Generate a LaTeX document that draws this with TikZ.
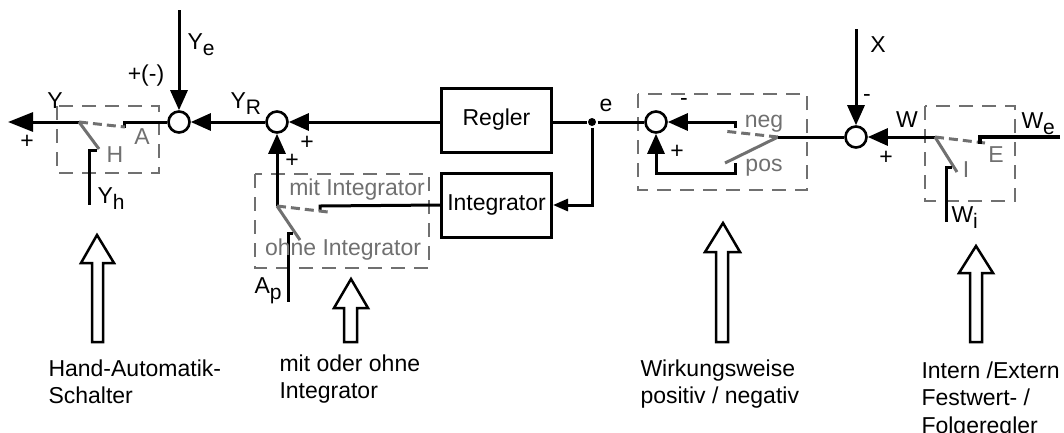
\documentclass[tikz,border=0pt]{standalone}
\usepackage{fontspec}
\setmainfont{Liberation Sans}
\usetikzlibrary{arrows.meta}
\definecolor{sw}{HTML}{707070}
\newcommand{\lsub}[1]{\raisebox{-6pt}{\fontsize{21}{24}\selectfont #1}}
\begin{document}
\begin{tikzpicture}[x=1pt,y=-1pt,
  line width=3pt,
  every node/.style={font=\fontsize{23}{27.5}\selectfont, inner sep=0pt},
  sumj/.style={circle, draw, fill=white, minimum size=21pt, line width=2.6pt},
  blk/.style={draw, rectangle, minimum width=110pt, minimum height=64pt, line width=3pt},
  arr/.style={-{Triangle[length=20pt,width=17pt]}},
  grayframe/.style={draw=sw, dash pattern=on 14pt off 9pt, line width=2pt},
  blade/.style={draw=sw, line width=3pt},
  bladed/.style={draw=sw, line width=3pt, dash pattern=on 9pt off 5pt},
  glab/.style={text=sw},
  hollow/.style={draw, line width=2.5pt, fill=white, line join=miter},
  btxt/.style={anchor=north west, align=left},
]
\useasboundingbox (0,0) rectangle (1064,432);

% dashed switch frames
\draw[grayframe] (57,106) rectangle (159,173);
\draw[grayframe] (255,174) rectangle (429,268);
\draw[grayframe] (638,94) rectangle (807,190);
\draw[grayframe] (925,106) rectangle (1015,201);

% summing junctions and blocks
\node[sumj] (j1) at (179,122) {};
\node[sumj] (j2) at (277,122) {};
\node[sumj] (j3) at (656,122) {};
\node[sumj] (j4) at (856,137) {};
\node[blk] (regler) at (496.5,120) {Regler};
\node[blk] (integ) at (496.5,205) {Integrator};
\node[circle, fill, minimum size=8pt] (edot) at (592,122) {};

% named points
\coordinate (yout) at (8,122);
\coordinate (hp) at (79,122);
\coordinate (hat) at (124,122);
\coordinate (ha) at (124,128);
\coordinate (hdash) at (125,127);
\coordinate (hblade) at (99,149);
\coordinate (hht) at (97,150);
\coordinate (hhc) at (89,150);
\coordinate (yhb) at (89,205);
\coordinate (yetop) at (179,10);
\coordinate (mp) at (277,206);
\coordinate (mct) at (320,206);
\coordinate (mc) at (320,211);
\coordinate (mdash) at (328,212);
\coordinate (mblade) at (300,240);
\coordinate (mot) at (293,233);
\coordinate (moc) at (288,233);
\coordinate (apb) at (288,302);
\coordinate (negc) at (735,128);
\coordinate (negt) at (735,122);
\coordinate (posc) at (735,163);
\coordinate (posr) at (735,173);
\coordinate (posl) at (656,173);
\coordinate (wp3) at (778,137);
\coordinate (ndash) at (723,131);
\coordinate (pblade) at (725,163);
\coordinate (xtop) at (856,29);
\coordinate (wp) at (935,137);
\coordinate (wdash) at (985,143);
\coordinate (wblade) at (957,172);
\coordinate (weR) at (1060,137);
\coordinate (wet) at (980,137);
\coordinate (wec) at (980,144);
\coordinate (wit) at (952,167);
\coordinate (wic) at (946,167);
\coordinate (wib) at (946,222);

% main signal path
\draw[arr] (regler.west |- j2) -- (j2);
\draw[arr] (j2) -- (j1);
\draw[arr] (yetop) -- (j1);
\draw (regler.east |- edot) -- (edot);
\draw (edot) -- (j3);
\draw[-{Triangle[length=15pt,width=12pt]}] (edot) |- (integ.east);

% Hand-Automatik switch
\draw[-{Triangle[length=25pt,width=19pt]}] (hp) -- (yout);
\draw (j1) -- (hat) -- (ha);
\draw[bladed] (hp) -- (hdash);
\draw[blade] (hp) -- (hblade);
\draw (hht) -- (hhc) -- (yhb);

% mit/ohne Integrator switch
\draw (integ.west) -- (mct) -- (mc);
\draw[arr] (mp) -- (j2);
\draw[bladed] (mp) -- (mdash);
\draw[blade] (mp) -- (mblade);
\draw (mot) -- (moc) -- (apb);

% Wirkungsweise switch
\draw[arr] (negc) -- (negt) -- (j3);
\draw[arr] (posc) -- (posr) -- (posl) -- (j3);
\draw[bladed] (wp3) -- (ndash);
\draw[blade] (wp3) -- (pblade);
\draw (wp3) -- (j4);

% Intern/Extern switch
\draw[arr] (xtop) -- (j4);
\draw[arr] (wp) -- (j4);
\draw[bladed] (wp) -- (wdash);
\draw[blade] (wp) -- (wblade);
\draw[line width=3.5pt] (weR) -- (wet) -- (wec);
\draw (wit) -- (wic) -- (wib);

% labels (black)
\node (lY) at (55,101) {Y};
\node (lpo) at (27,142) {+};
\node[anchor=base west] (lye) at (186,49) {Y\lsub{e}};
\node (lpm) at (146,76) {+(-)};
\node[anchor=base west] (lyr) at (229,108) {Y\lsub{R}};
\node (lp2r) at (307,143) {+};
\node (lp2b) at (292,161) {+};
\node (le) at (606,105) {e};
\node (lm3) at (684,102) {-};
\node (lp3) at (677,152) {+};
\node (lX) at (878,45) {X};
\node (lm4) at (867,98) {-};
\node (lp4) at (886,158) {+};
\node (lW) at (907,120) {W};
\node[anchor=base west] (lwe) at (1020,128) {W\lsub{e}};
\node[anchor=base west] (lyh) at (96,203) {Y\lsub{h}};
\node[anchor=base west] (lap) at (253,293) {A\lsub{p}};
\node[anchor=base west] (lwi) at (950,222) {W\lsub{i}};

% labels (gray)
\node[glab] (lA) at (142,137) {A};
\node[glab] (lH) at (115,155) {H};
\node[glab] (lmit) at (357,190) {mit Integrator};
\node[glab] (lohne) at (343,250) {ohne Integrator};
\node[glab, anchor=base] (lneg) at (764,127) {neg};
\node[glab, anchor=base] (lpos) at (764,171) {pos};
\node[glab] (lE) at (996,155) {E};
\node[glab] (lI) at (966,170) {I};

% hollow indicator arrows
\draw[hollow] (92,342) -- (92,263) -- (81,263) -- (97,235) -- (114,263) -- (103,263) -- (103,342) -- cycle;
\draw[hollow] (344,342) -- (344,308) -- (334,308) -- (351,279) -- (368,308) -- (357,308) -- (357,342) -- cycle;
\draw[hollow] (716,342) -- (716,252) -- (705,252) -- (723,223) -- (740,252) -- (728,252) -- (728,342) -- cycle;
\draw[hollow] (970,342) -- (970,273) -- (959,273) -- (976,246) -- (993,273) -- (982,273) -- (982,342) -- cycle;

% bottom texts
\node[btxt] (t1) at (47,358) {Hand-Automatik-\\Schalter};
\node[btxt] (t2) at (278,353) {mit oder ohne\\Integrator};
\node[btxt] (t3) at (639,358) {Wirkungsweise\\positiv / negativ};
\node[btxt] (t4) at (920,360) {Intern /Extern\\Festwert- /\\Folgeregler};
\end{tikzpicture}
\end{document}
